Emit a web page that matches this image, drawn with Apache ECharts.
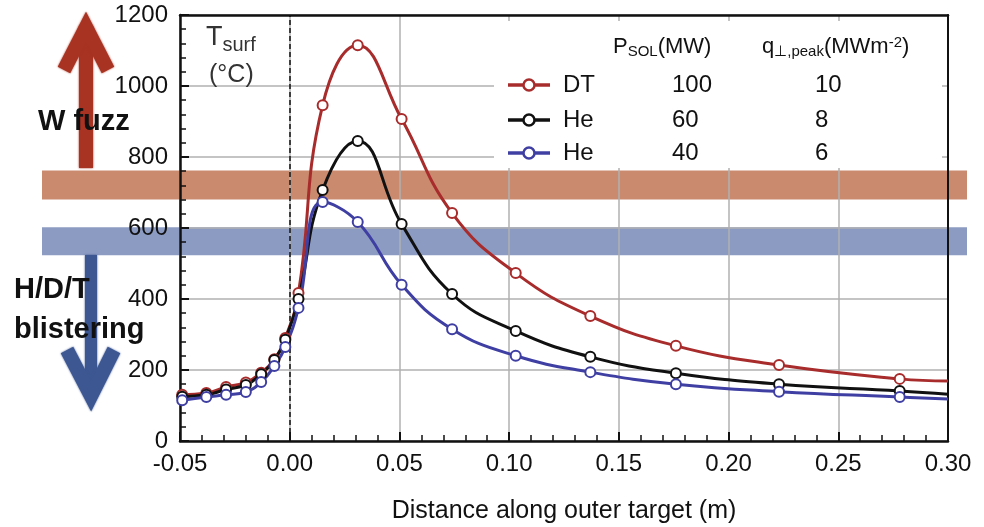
<!DOCTYPE html>
<html>
<head>
<meta charset="utf-8">
<script src="https://cdn.jsdelivr.net/npm/echarts@6/dist/echarts.min.js"></script>
<style>
html,body{margin:0;padding:0;background:#fff}
#main{width:984px;height:527px}
</style>
</head>
<body>
<div id="main"></div>
<script>
// distance along outer target (m) where the points were read
var xs = [-0.049, -0.038, -0.029, -0.020, -0.013, -0.007, -0.002, 0.004, 0.015, 0.031, 0.051, 0.074, 0.103, 0.137, 0.176, 0.223, 0.278, 0.300];
// surface temperature (C)
var dtTemp   = [130, 135, 152, 165, 192, 230, 290, 417, 946, 1115, 907, 642, 473, 352, 268, 214, 175, 169];
var he60Temp = [125, 130, 145, 158, 188, 228, 285, 400, 707, 845, 611, 414, 310, 237, 191, 160, 141, 132];
var he40Temp = [115, 124, 130, 138, 166, 211, 265, 375, 673, 617, 440, 315, 240, 194, 160, 139, 124, 118];

var seriesNames = ['DT', 'He', 'He'];
var psolMW = [100, 60, 40];
var qPeak = [10, 8, 6];

// temperature windows (C)
var fuzzBand = [680, 762];
var blisterBand = [523, 602];

var colors = ['#a82c2c', '#111111', '#3f3fa3'];
var FONT = '"Liberation Sans", Arial, sans-serif';

var chart = echarts.init(document.getElementById('main'));

function toData(ys){
	return ys.map(function(y, i){
		var p = {value: [xs[i], y]};
		//最后一个点只画线
		if (i === xs.length - 1) p.symbol = 'none';
		return p;
	});
}

function mkSeries(name, ys, color, extra){
	var s = {
		name: name,
		type: 'line',
		data: toData(ys),
		smooth: 0.45,
		symbol: 'emptyCircle',
		symbolSize: 10,
		showAllSymbol: true,
		z: 5,
		lineStyle: {color: color, width: 3},
		itemStyle: {color: color, borderWidth: 2}
	};
	if (extra) s.markLine = extra;
	return s;
}

var option = {
	backgroundColor: '#fff',
	animation: false,
	grid: {left: 180, right: 36, top: 15, bottom: 86, outerBoundsMode: 'none'},
	xAxis: [
		{
			type: 'value',
			min: -0.05,
			max: 0.30,
			interval: 0.05,
			z: 3,
			axisLine: {onZero: false, lineStyle: {color: '#111', width: 2.5}},
			axisTick: {inside: true, length: 9, lineStyle: {color: '#111', width: 2}},
			minorTick: {show: true, splitNumber: 5, length: 6, lineStyle: {color: '#111', width: 1.5}},
			splitLine: {lineStyle: {color: '#b0b0b0', width: 1.5}},
			axisLabel: {
				formatter: function(v){ return v.toFixed(2); },
				fontSize: 24, color: '#111', margin: 11, fontFamily: FONT
			},
			name: 'Distance along outer target (m)',
			nameLocation: 'middle',
			nameGap: 58,
			nameTextStyle: {fontSize: 25, color: '#111', fontFamily: FONT}
		},
		{
			type: 'value', position: 'top', min: -0.05, max: 0.30, z: 3,
			axisLine: {onZero: false, lineStyle: {color: '#111', width: 2.5}},
			axisTick: {show: false}, axisLabel: {show: false}, splitLine: {show: false}
		}
	],
	yAxis: [
		{
			type: 'value',
			min: 0,
			max: 1200,
			interval: 200,
			z: 3,
			axisLine: {onZero: false, lineStyle: {color: '#111', width: 2.5}},
			axisTick: {inside: true, length: 9, lineStyle: {color: '#111', width: 2}},
			minorTick: {show: true, splitNumber: 5, length: 6, lineStyle: {color: '#111', width: 1.5}},
			splitLine: {lineStyle: {color: '#b0b0b0', width: 1.5}},
			axisLabel: {
				formatter: function(v){ return String(v); },
				fontSize: 24, color: '#111', margin: 12, fontFamily: FONT
			}
		},
		{
			type: 'value', position: 'right', min: 0, max: 1200, z: 3,
			axisLine: {onZero: false, lineStyle: {color: '#111', width: 2}},
			axisTick: {show: false}, axisLabel: {show: false}, splitLine: {show: false}
		}
	],
	series: [
		mkSeries(seriesNames[0], dtTemp, colors[0], {
			silent: true,
			symbol: ['none', 'none'],
			label: {show: false},
			lineStyle: {color: '#111', type: [5, 3], width: 1.5},
			data: [{xAxis: 0}]
		}),
		mkSeries(seriesNames[1], he60Temp, colors[1]),
		mkSeries(seriesNames[2], he40Temp, colors[2])
	]
};
chart.setOption(option);

//带状区和注释
function yPix(v){ return chart.convertToPixel({yAxisIndex: 0}, v); }

var g = [];
[[fuzzBand, '#c98a6e'], [blisterBand, '#8c9bc2']].forEach(function(b){
	var top = yPix(b[0][1]), bot = yPix(b[0][0]);
	g.push({type: 'rect', z: 1, shape: {x: 42, y: top, width: 925, height: bot - top}, style: {fill: b[1]}});
});

// legend table box
g.push({type: 'rect', z: 4, shape: {x: 494, y: 21, width: 448, height: 147}, style: {fill: '#fff'}});

var rowY = [85, 120, 153];
var txt = function(x, y, text, size, extra){
	var st = {text: text, x: 0, y: 0, fontSize: size, fontFamily: FONT, fill: '#111', align: 'left', verticalAlign: 'middle'};
	for (var k in extra) st[k] = extra[k];
	return {type: 'text', z: 7, x: x, y: y, style: st};
};
for (var i = 0; i < seriesNames.length; i++){
	g.push({type: 'line', z: 6, shape: {x1: 508, y1: rowY[i], x2: 550, y2: rowY[i]}, style: {stroke: colors[i], lineWidth: 3.5}});
	g.push({type: 'circle', z: 7, shape: {cx: 529, cy: rowY[i], r: 5.5}, style: {fill: '#fff', stroke: colors[i], lineWidth: 2.5}});
	g.push(txt(563, rowY[i], seriesNames[i], 24));
	g.push(txt(672, rowY[i], String(psolMW[i]), 24));
	g.push(txt(815, rowY[i], String(qPeak[i]), 24));
}
g.push(txt(613, 47, '{a|P}{s|SOL}{a|(MW)}', 22, {rich: {
	a: {fontSize: 22, fontFamily: FONT, fill: '#111'},
	s: {fontSize: 15, fontFamily: FONT, fill: '#111', padding: [9, 0, 0, 0]}
}}));
g.push(txt(762, 47, '{a|q}{s|⊥,peak}{a|(MWm}{p|-2}{a|)}', 22, {rich: {
	a: {fontSize: 22, fontFamily: FONT, fill: '#111'},
	s: {fontSize: 15, fontFamily: FONT, fill: '#111', padding: [9, 0, 0, 0]},
	p: {fontSize: 15, fontFamily: FONT, fill: '#111', padding: [0, 0, 9, 0]}
}}));

// T_surf label
g.push(txt(206, 38, '{a|T}{s|surf}', 26, {fill: '#333', rich: {
	a: {fontSize: 27, fontFamily: FONT, fill: '#333'},
	s: {fontSize: 20, fontFamily: FONT, fill: '#333', padding: [14, 0, 0, 0]}
}}));
g.push(txt(209, 75, '(°C)', 25, {fill: '#333'}));

// arrows
var redA = '#a83322', blueA = '#3d5792';
g.push({type: 'polyline', z: 6, shape: {points: [[86, 168], [86, 26]]}, style: {stroke: redA, lineWidth: 14, shadowBlur: 2, shadowColor: redA}});
g.push({type: 'polyline', z: 6, shape: {points: [[64, 70], [86, 27], [108, 70]]}, style: {stroke: redA, lineWidth: 14, lineJoin: 'miter', shadowBlur: 2, shadowColor: redA, fill: null}});
g.push({type: 'polyline', z: 6, shape: {points: [[91, 255], [91, 395]]}, style: {stroke: blueA, lineWidth: 12, shadowBlur: 2, shadowColor: blueA}});
g.push({type: 'polyline', z: 6, shape: {points: [[67, 350], [91, 396], [114, 350]]}, style: {stroke: blueA, lineWidth: 14, lineJoin: 'miter', shadowBlur: 2, shadowColor: blueA, fill: null}});

g.push(txt(38, 122, 'W fuzz', 29, {fontWeight: 'bold'}));
g.push(txt(14, 290, 'H/D/T', 29, {fontWeight: 'bold'}));
g.push(txt(14, 330, 'blistering', 29, {fontWeight: 'bold'}));

chart.setOption({graphic: g});
</script>
</body>
</html>
